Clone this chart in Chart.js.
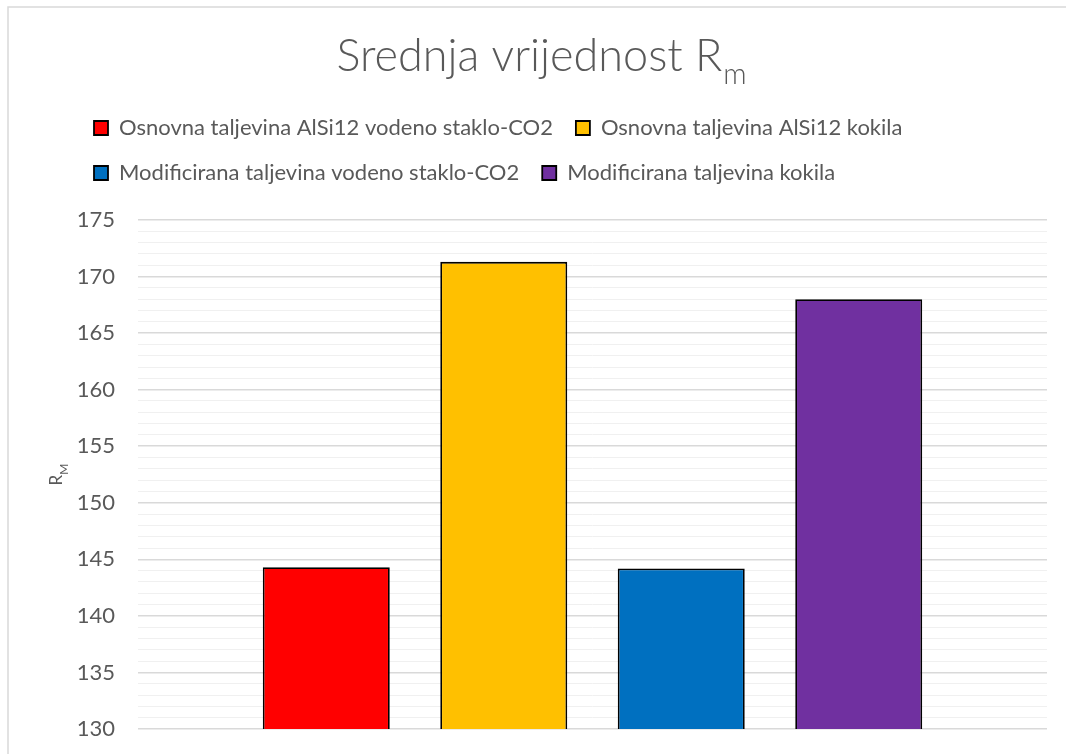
<!DOCTYPE html>
<html>
<head>
<meta charset="utf-8">
<title>Srednja vrijednost Rm</title>
<script src="https://cdn.jsdelivr.net/npm/chart.js@4.4.1/dist/chart.umd.min.js"></script>
<style>
  html, body { margin: 0; padding: 0; background: #fff; }
  canvas { display: block; }
</style>
</head>
<body>
<canvas id="rmChart" width="1066" height="754"></canvas>
<script>
// mean tensile strength per melt / mould combination
const seriesNames = [
  'Osnovna taljevina AlSi12 vodeno staklo-CO2',
  'Osnovna taljevina AlSi12 kokila',
  'Modificirana taljevina vodeno staklo-CO2',
  'Modificirana taljevina kokila'
];
const seriesValues = [144.3, 171.3, 144.2, 168.0];
const seriesColors = ['#FF0000', '#FFC000', '#0070C0', '#7030A0'];
const categories = [''];
const yMin = 130;
const yMax = 175;

const FONT = 'Lato, "Open Sans", sans-serif';
const textColor = '#595959';

// extra room between the legend and the plot
const legendGap = {
  id: 'legendGap',
  beforeInit(chart) {
    const fit = chart.legend.fit;
    chart.legend.fit = function () {
      fit.bind(chart.legend)();
      this.height += 26;
    };
  }
};

// frame, title and axis title (both need subscripts, so drawn by hand)
const headings = {
  id: 'headings',
  beforeDraw(chart) {
    const c = chart.ctx;
    c.save();
    c.fillStyle = '#fff';
    c.fillRect(0, 0, chart.width, chart.height);
    c.strokeStyle = '#d9d9d9';
    c.lineWidth = 1.5;
    c.beginPath();
    c.moveTo(8, chart.height + 2);
    c.lineTo(8, 7);
    c.lineTo(chart.width + 2, 7);
    c.stroke();
    c.restore();
  },
  afterDraw(chart) {
    const c = chart.ctx;
    c.save();
    c.fillStyle = textColor;
    c.textBaseline = 'alphabetic';
    c.textAlign = 'left';

    const main = 'Srednja vrijednost R';
    c.font = '300 45px ' + FONT;
    const wMain = c.measureText(main).width;
    c.font = '300 29px ' + FONT;
    const wSub = c.measureText('m').width;
    const x0 = (chart.width + 16) / 2 - (wMain + wSub) / 2;
    c.font = '300 45px ' + FONT;
    c.fillText(main, x0, 71);
    c.font = '300 29px ' + FONT;
    c.fillText('m', x0 + wMain + 1, 84);

    // y axis title R_M, rotated
    const midY = (chart.chartArea.top + chart.chartArea.bottom) / 2;
    c.translate(62, midY);
    c.rotate(-Math.PI / 2);
    c.font = '17px ' + FONT;
    const wR = c.measureText('R').width;
    c.font = '12px ' + FONT;
    const wM = c.measureText('M').width;
    const start = -(wR + wM) / 2;
    c.font = '17px ' + FONT;
    c.fillText('R', start, 0);
    c.font = '12px ' + FONT;
    c.fillText('M', start + wR, 6);
    c.restore();
  }
};

const datasets = seriesNames.map((name, i) => ({
  label: name,
  data: [seriesValues[i]],
  backgroundColor: seriesColors[i],
  borderColor: '#000',
  borderWidth: 1.8,
  borderSkipped: false,
  barPercentage: 0.7155,
  categoryPercentage: 0.781
}));

const isMajor = ctx => ctx.tick && ctx.tick.value % 5 === 0;

new Chart(document.getElementById('rmChart'), {
  type: 'bar',
  data: { labels: categories, datasets: datasets },
  options: {
    responsive: false,
    animation: false,
    layout: { padding: { top: 94, left: 71, right: 19, bottom: 25 } },
    plugins: {
      title: { display: false },
      tooltip: { enabled: false },
      legend: {
        position: 'top',
        align: 'start',
        labels: {
          boxWidth: 14,
          boxHeight: 14,
          padding: 23,
          color: textColor,
          font: { family: FONT, size: 22 }
        }
      }
    },
    scales: {
      x: { display: false },
      y: {
        min: yMin,
        max: yMax,
        afterFit(s) { s.width = 67; },
        border: { display: false },
        grid: {
          // invisible tick marks keep the labels away from the plot
          tickLength: 21,
          tickColor: 'rgba(0,0,0,0)',
          color: ctx => isMajor(ctx) ? '#d9d9d9' : '#f0f0f0',
          lineWidth: ctx => isMajor(ctx) ? 1.5 : 1
        },
        ticks: {
          stepSize: 1,
          autoSkip: false,
          padding: 2,
          color: textColor,
          font: { family: FONT, size: 22 },
          callback: v => (v % 5 === 0 ? v : '')
        }
      }
    }
  },
  plugins: [legendGap, headings]
});
</script>
</body>
</html>
